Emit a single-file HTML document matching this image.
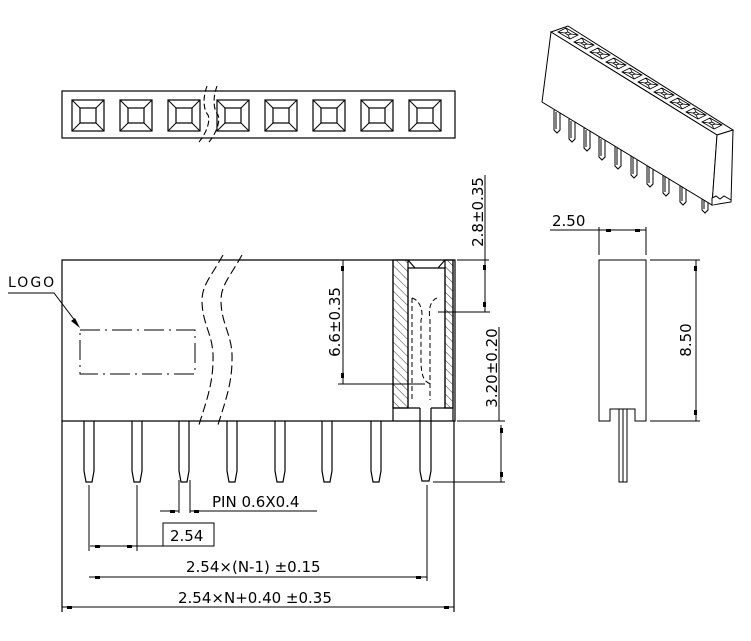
<!DOCTYPE html>
<html><head><meta charset="utf-8"><style>
html,body{margin:0;padding:0;background:#fff;}
svg{display:block;}
text{font-family:"DejaVu Sans","Liberation Sans",sans-serif;font-size:15px;fill:#000;}
</style></head><body>
<svg width="751" height="641" viewBox="0 0 751 641" xmlns="http://www.w3.org/2000/svg">
<defs>
<pattern id="h" width="6" height="6" patternUnits="userSpaceOnUse" patternTransform="rotate(-45)">
<line x1="0" y1="0" x2="0" y2="6" stroke="#000" stroke-width="0.8"/>
</pattern>
<g id="sq">
<rect x="0" y="0" width="32" height="31" fill="none" stroke="#000" stroke-width="1.2"/>
<rect x="8" y="8" width="16" height="15" fill="none" stroke="#000" stroke-width="1.2"/>
<path d="M0 0L8 8M32 0L24 8M0 31L8 23M32 31L24 23" stroke="#000" stroke-width="1"/>
</g>
<path id="pin" d="M-5 0V50L-3 61H3L5 50V0" fill="none" stroke="#000" stroke-width="1.2"/>
<path id="cell" d="M0 3l8-4 12 7-8 4z M7 4l3-1 3 2-3 1z M0 3l7 1M8 -1l2 4M20 6l-7-1M12 10l-2-4" fill="none" stroke="#000" stroke-width="0.8"/>
<path id="p3" d="M-3 0v20l3 3 3-3v-20M-1 2v17" fill="#fff" stroke="#000" stroke-width="1"/>
</defs>
<g fill="none" stroke="#000" stroke-width="1.2">
<rect x="62" y="91" width="393" height="47"/>
</g>
<use href="#sq" x="72" y="100"/><use href="#sq" x="120" y="100"/><use href="#sq" x="168" y="100"/>
<use href="#sq" x="217" y="100"/><use href="#sq" x="265" y="100"/><use href="#sq" x="313" y="100"/>
<use href="#sq" x="361" y="100"/><use href="#sq" x="409" y="100"/>
<g fill="none" stroke="#000" stroke-width="1.1" stroke-dasharray="6,3">
<path d="M207 86C202 100 204 110 208 115C211 122 205 135 199 142"/>
<path d="M217 86C212 100 214 110 218 115C221 122 215 135 209 142"/>
</g>

<g fill="none" stroke="#000" stroke-width="1.2">
<path d="M62 260H455V421H62Z"/>
<path d="M62 421V612M454 421V612"/>
<rect x="393" y="260" width="15" height="148" fill="url(#h)"/>
<rect x="445" y="260" width="8" height="148" fill="url(#h)"/>
<path d="M393 260V421M453 260V421M408 268H445V408M408 268V408M393 408H420M431 408H453"/>
<path d="M408 260L415 268M445 260L438 268"/>
<path d="M420 408V471L422 481H429L431 471V408"/>
</g>
<g fill="none" stroke="#000" stroke-width="1" stroke-dasharray="5,3">
<path d="M412 298C420 300 424 312 421 320V360C421 378 425 383 432 384"/>
<path d="M437 298C431 300 428 308 430 320V400"/>
<path d="M412 298V400"/>
</g>
<use href="#pin" x="89" y="421"/><use href="#pin" x="137" y="421"/><use href="#pin" x="184" y="421"/>
<use href="#pin" x="232" y="421"/><use href="#pin" x="280" y="421"/><use href="#pin" x="327" y="421"/>
<use href="#pin" x="376" y="421"/>
<g fill="none" stroke="#000" stroke-width="1.1" stroke-dasharray="9,4">
<path d="M223 255C212 275 202 285 202 300C202 325 214 335 213 360C213 385 205 405 198 428"/>
<path d="M242 255C231 275 221 285 221 300C221 325 233 335 232 360C232 385 224 405 217 428"/>
</g>
<text x="8" y="287" style="font-size:14px;letter-spacing:2px">LOGO</text>
<path d="M8 293H54L76 322" fill="none" stroke="#000" stroke-width="1"/>
<path d="M80 328L71 321L75 318Z" fill="#000"/>
<rect x="80" y="330" width="115" height="44" fill="none" stroke="#000" stroke-width="1" stroke-dasharray="20,5,2,5"/>

<g fill="none" stroke="#000" stroke-width="1">
<path d="M343 260V384M338 384H425"/>
<path d="M457 260H489M438 312H490M485 175V312"/>
<path d="M499 327V421M457 421H505M501 425V482M433 482H505"/>
<path d="M89 485V551M137 485V551M90 546H163M179 480V513M190 480V513M160 511H179M190 511H317"/>
<path d="M427 485V581M89 577H427M62 607H454"/>
<rect x="163" y="523" width="51" height="23"/>
<path d="M599 260H646V421H635V409H610V421H599Z"/>
<path d="M619 409V482H627V409M623 409V482"/>
<path d="M599 227V255M646 227V255M550 230H646"/>
<path d="M650 260H700M650 421H700M696 260V421"/>
</g>
<!-- dim ticks -->
<g fill="#000">
<rect x="341" y="266" width="3" height="5"/><rect x="341" y="373" width="3" height="5"/>
<rect x="483" y="265" width="3" height="5"/><rect x="483" y="302" width="3" height="5"/>
<rect x="500" y="428" width="3" height="5"/><rect x="500" y="472" width="3" height="5"/>
<rect x="694" y="266" width="3" height="5"/><rect x="694" y="410" width="3" height="5"/>
<rect x="606" y="229" width="5" height="3"/><rect x="635" y="229" width="5" height="3"/>
<rect x="95" y="545" width="5" height="3"/><rect x="127" y="545" width="5" height="3"/>
<rect x="170" y="510" width="5" height="3"/><rect x="194" y="510" width="5" height="3"/>
<rect x="95" y="576" width="5" height="3"/><rect x="416" y="576" width="5" height="3"/>
<rect x="67" y="606" width="5" height="3"/><rect x="444" y="606" width="5" height="3"/>
</g>
<text x="212" y="507">PIN 0.6X0.4</text>
<text x="170" y="541">2.54</text>
<text x="186" y="572">2.54×(N-1) ±0.15</text>
<text x="178" y="603">2.54×N+0.40 ±0.35</text>
<text x="552" y="226">2.50</text>
<text transform="translate(340,322) rotate(-90)" text-anchor="middle">6.6±0.35</text>
<text transform="translate(483,212) rotate(-90)" text-anchor="middle">2.8±0.35</text>
<text transform="translate(497,368) rotate(-90)" text-anchor="middle">3.20±0.20</text>
<text transform="translate(691,340) rotate(-90)" text-anchor="middle">8.50</text>

<!-- 3D view -->
<use href="#p3" x="557" y="110"/><use href="#p3" x="572" y="119"/><use href="#p3" x="587" y="128"/>
<use href="#p3" x="602" y="137"/><use href="#p3" x="618" y="146"/><use href="#p3" x="634" y="155"/>
<use href="#p3" x="650" y="164"/><use href="#p3" x="666" y="173"/><use href="#p3" x="683" y="182"/>
<use href="#p3" x="705" y="190"/>
<g fill="#fff" stroke="#000" stroke-width="1">
<path d="M551 32L568 26L733 130L717 135Z"/>
<path d="M551 32L717 135L712 205L542 102Z"/>
<path d="M717 135L733 130L731 202L712 205Z"/>
<path d="M712 205V198L716 196L720 199L724 196L731 200"/>
</g>
<use href="#cell" x="558" y="29"/><use href="#cell" x="574" y="39"/><use href="#cell" x="590" y="49"/>
<use href="#cell" x="606" y="59"/><use href="#cell" x="622" y="69"/><use href="#cell" x="638" y="79"/>
<use href="#cell" x="654" y="89"/><use href="#cell" x="670" y="99"/><use href="#cell" x="686" y="109"/>
<use href="#cell" x="702" y="119"/>
</svg>
</body></html>
